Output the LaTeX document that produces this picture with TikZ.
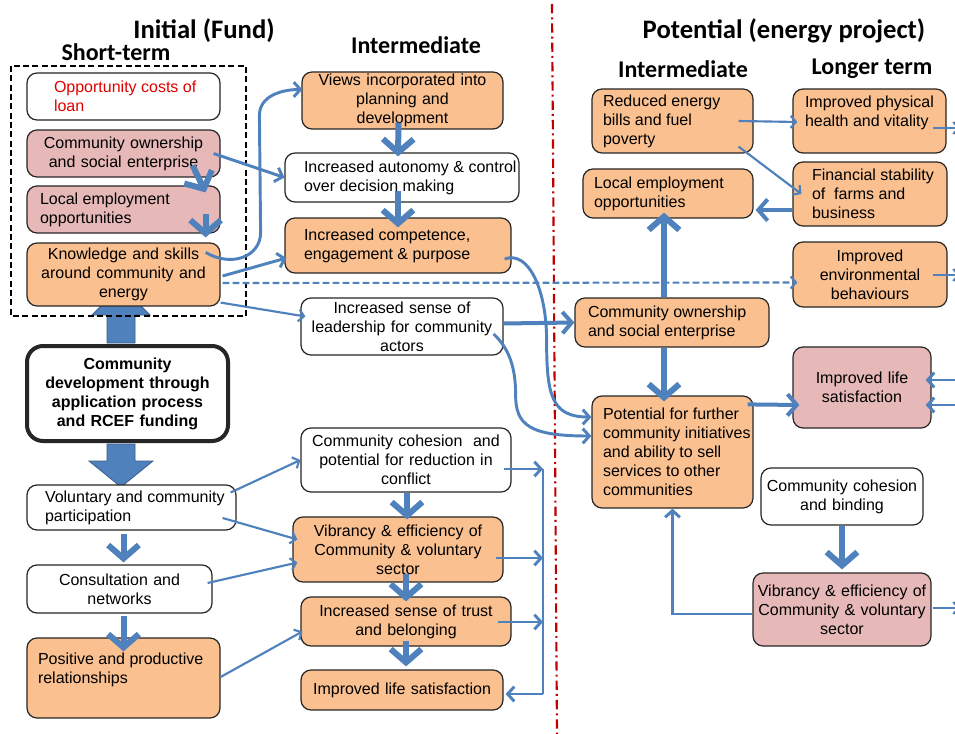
\documentclass[tikz,border=0pt]{standalone}
\usepackage{fontspec}
\setmainfont{Liberation Sans}
\newfontfamily\hdfont{Carlito}
\usetikzlibrary{arrows.meta,calc}
\definecolor{orng}{HTML}{FAC090}
\definecolor{pnk}{HTML}{E6B9B8}
\definecolor{blu}{HTML}{4F81BD}
\definecolor{bludk}{HTML}{385D8A}
\definecolor{redc}{HTML}{C00000}
\definecolor{redt}{HTML}{E00000}
\newcommand\bodyf{\fontsize{12}{14.3}\selectfont}
% centred box: name x1 y1 x2 y2 style text
\newcommand\cbx[7]{%
  \pgfmathsetlengthmacro\bxw{(#4-#2)*0.75pt}%
  \pgfmathsetlengthmacro\bxh{(#5-#3)*0.75pt}%
  \pgfmathsetlengthmacro\bxtw{(#4-#2-6)*0.75pt}%
  \node[#6, minimum width=\bxw, minimum height=\bxh, text width=\bxtw, align=center, inner xsep=2.25pt, inner ysep=0pt] (#1) at ({(#2+#4)/2},{(#3+#5)/2}) {#7};}
% left box: name x1 y1 x2 y2 style leftpad text
\newcommand\lbx[8]{%
  \pgfmathsetlengthmacro\bxw{(#4-#2)*0.75pt}%
  \pgfmathsetlengthmacro\bxh{(#5-#3)*0.75pt}%
  \pgfmathsetlengthmacro\bxl{(#7)*0.75pt}%
  \pgfmathsetlengthmacro\bxtw{(#4-#2-#7-2)*0.75pt}%
  \node[#6, minimum width=\bxw, minimum height=\bxh, inner xsep=0pt, inner ysep=0pt] (#1) at ({(#2+#4)/2},{(#3+#5)/2}) {\hspace*{\bxl}\parbox{\bxtw}{\raggedright #8}};}
\begin{document}
\begin{tikzpicture}[x=0.75pt, y=-0.75pt,
  every node/.style={font=\bodyf},
  bxb/.style={draw=black!85, line width=0.9pt, rounded corners=7.5pt},
  ob/.style={bxb, fill=orng},
  pb/.style={bxb, fill=pnk},
  wb/.style={bxb, fill=white},
  hd/.style={font=\hdfont\bfseries\fontsize{18}{20}\selectfont, inner sep=0pt},
  hdl/.style={font=\hdfont\bfseries\fontsize{20}{22}\selectfont, inner sep=0pt},
  thn/.style={draw=blu, line width=1.6pt, -{Straight Barb[length=4pt,width=9pt]}},
  med/.style={draw=blu, line width=2.2pt, -{Straight Barb[length=5pt,width=11pt]}},
  medline/.style={draw=blu, line width=2.2pt},
  hv/.style={draw=blu, line width=3pt, -{Straight Barb[length=7pt,width=16pt]}},
  thk/.style={draw=blu, line width=4.5pt, -{Straight Barb[length=10pt,width=23pt]}},
  blk/.style={fill=blu, draw=bludk, line width=0.6pt},
  blued/.style={dash pattern=on 5pt off 2.5pt}]
\fill[white] (0,0) rectangle (955,734);
\useasboundingbox (0,0) rectangle (955,734);

% headers
\node[hdl] (h1) at (204,31) {Initial (Fund)};
\node[hd] (h2) at (116,52) {Short-term};
\node[hd] (h3) at (416,45) {Intermediate};
\node[hdl] (h4) at (784,31) {Potential (energy project)};
\node[hd] (h5) at (683,69) {Intermediate};
\node[hd] (h6) at (872,69) {Longer term};

% red separator
\coordinate (rt) at (552,4);
\coordinate (rb) at (557,734);
\draw[redc, line width=1.6pt, dash pattern=on 7pt off 3pt on 1.5pt off 3pt] (rt) -- (rb);

% left column
\lbx{opp}{27}{73}{220}{120}{wb, text=redt}{26}{Opportunity costs of\\loan}
\cbx{cown}{27}{130}{220}{177}{pb}{Community ownership\\and social enterprise}
\lbx{lemp}{27}{186}{220}{233}{pb}{12}{Local employment\\opportunities}
\cbx{dev}{27}{346}{228}{441}{wb, line width=3pt, rounded corners=12pt, font=\bodyf\bfseries}{Community\\development through\\application process\\and RCEF funding}

% block arrows
\coordinate (ua) at ([shift={(-6.5,0)}]dev.north);
\coordinate (da) at ([shift={(-6.5,0)}]dev.south);
\filldraw[blk] ([shift={(-14,-1)}]ua) -- ([shift={(-14,-29)}]ua) -- ([shift={(-29,-29)}]ua) -- ([shift={(0,-58)}]ua) -- ([shift={(29,-29)}]ua) -- ([shift={(14,-29)}]ua) -- ([shift={(14,-1)}]ua) -- cycle;
\filldraw[blk] ([shift={(-14,1)}]da) -- ([shift={(-14,18)}]da) -- ([shift={(-32,18)}]da) -- ([shift={(0,44)}]da) -- ([shift={(32,18)}]da) -- ([shift={(14,18)}]da) -- ([shift={(14,1)}]da) -- cycle;

\cbx{know}{27}{243}{220}{306}{ob}{Knowledge and skills\\around community and\\energy}
\lbx{vol}{27}{485}{236}{530}{wb}{17}{Voluntary and community\\participation}
\cbx{cons}{27}{565}{212}{613}{wb}{Consultation and\\networks}
\lbx{pos}{27}{638}{220}{718}{ob}{10}{Positive and productive\\relationships\\\mbox{}}

% short-term frame
\draw[black, line width=1.3pt, dash pattern=on 4.5pt off 2.5pt] (11,66) rectangle (246,316);

% middle column
\cbx{views}{302}{72}{503}{129}{ob}{Views incorporated into\\planning and\\development}
\lbx{auto}{285}{153}{519}{202}{wb}{18}{Increased autonomy \& control\\over decision making}
\lbx{comp}{285}{218}{511}{273}{ob}{18}{Increased competence,\\engagement \& purpose}
\cbx{lead}{301}{298}{503}{355}{wb}{Increased sense of\\leadership for community\\actors}
\cbx{coh}{301}{428}{511}{492}{wb}{Community cohesion\ \ and\\potential for reduction in\\conflict}
\cbx{vib}{293}{517}{503}{582}{ob}{Vibrancy \& efficiency of\\Community \& voluntary\\sector}
\cbx{trust}{301}{597}{511}{646}{ob}{Increased sense of trust\\and belonging}
\cbx{life}{301}{670}{503}{710}{ob}{Improved life satisfaction}

% right part
\lbx{red}{592}{89}{753}{153}{ob}{10}{Reduced energy\\bills and fuel\\poverty}
\lbx{phys}{793}{89}{946}{153}{ob}{11}{Improved physical\\health and vitality\\\mbox{}}
\lbx{lemp2}{583}{169}{753}{218}{ob}{10}{Local employment\\opportunities}
\lbx{fin}{793}{162}{947}{226}{ob}{18}{Financial stability\\of\ \ farms and\\business}
\cbx{env}{793}{242}{947}{307}{ob}{Improved\\environmental\\behaviours}
\lbx{cown2}{575}{298}{769}{347}{ob}{12}{Community ownership\\and social enterprise}
\cbx{lifeR}{793}{347}{931}{428}{pb}{Improved life\\satisfaction}
\lbx{pot}{592}{396}{753}{508}{ob}{10}{Potential for further\\community initiatives\\and ability to sell\\services to other\\communities}
\cbx{cohR}{761}{468}{923}{525}{wb}{Community cohesion\\and binding}
\cbx{vibR}{753}{573}{931}{646}{pb}{Vibrancy \& efficiency of\\Community \& voluntary\\sector}

% free ends at the right edge
\coordinate (eP) at (960,128);
\coordinate (eE) at (960,275);
\coordinate (eL1) at (960,380);
\coordinate (eL2) at (960,405);
\coordinate (eV) at (960,608);
% bracket
\coordinate (bk1) at (543,469);
\coordinate (bk2) at (543,558);
\coordinate (bk3) at (543,622);
\coordinate (bk4) at (543,694);

% thick vertical arrows
\draw[thk] ([shift={(-28,-12)}]cown.south east) -- ([shift={(-15,7)}]lemp.north east);
\draw[thk] ([shift={(-15,-20)}]lemp.south east) -- ([shift={(-15,-5)}]know.north east);
\draw[thk] ([shift={(-4,-7)}]views.south) -- ([shift={(-4,4)}]auto.north);
\draw[thk] ([shift={(-4,-12)}]auto.south) -- ([shift={(0,10)}]comp.north);
\draw[thk] ([shift={(1,0)}]coh.south) -- ([shift={(9,3)}]vib.north);
\draw[thk] ([shift={(8,-9)}]vib.south) -- ([shift={(0,5)}]trust.north);
\draw[thk] ([shift={(0,-6)}]trust.south) -- ([shift={(4,-3)}]life.north);
\draw[thk] ([shift={(-8,3)}]vol.south) -- ([shift={(4,-2)}]cons.north);
\draw[thk] ([shift={(4,2)}]cons.south) -- ([shift={(0,14)}]pos.north);
\draw[thk] ([shift={(-8,0)}]cown2.north) -- ([shift={(-4,-6)}]lemp2.south);
\draw[thk] ([shift={(-8,0)}]cown2.south) -- ([shift={(-8.5,6)}]pot.north);
\draw[thk] (cohR.south) -- ([shift={(0,-3)}]vibR.north);

% heavier horizontal arrows
\draw[hv] ([shift={(0,-3)}]lead.east) -- (cown2.west);
\draw[hv] ([shift={(-6,9)}]pot.north east) -- ([shift={(7,17.5)}]lifeR.west);
\draw[hv] ([shift={(0,16)}]fin.west) -- ([shift={(2,16.5)}]lemp2.east);

% medium connectors
\draw[med] ([shift={(-15,10)}]know.north east) .. controls +(25,15) and +(0,25) .. ([shift={(40,-10)}]know.north east) -- ([shift={(-42,15)}]views.west) .. controls +(0,-20) and +(-20,0) .. ([shift={(1,-11)}]views.west);
\draw[med] ([shift={(2,1.5)}]know.east) -- ([shift={(2,12.5)}]comp.west);
\draw[med] ([shift={(-7,0)}]cown.east) -- (auto.west);
\draw[med] ([shift={(-7,13.5)}]comp.east) .. controls +(24,-9) and +(0,-50) .. ([shift={(35,94.5)}]comp.east) .. controls +(0,55) and +(-40,0) .. ([shift={(0,-35)}]pot.west);
\draw[med] ([shift={(-10,7.5)}]lead.east) .. controls +(17,16) and +(0,-25) .. ([shift={(12,68.5)}]lead.east) .. controls +(0,30) and +(-62,0) .. ([shift={(0,-16)}]pot.west);
\draw[med] (eL1) -- ([shift={(-6,-7.5)}]lifeR.east);
\draw[med] (eL2) -- ([shift={(-6,17.5)}]lifeR.east);
\draw[med] ([shift={(0,4.5)}]vibR.west) -| (pot.south);

% thin connectors
\draw[thn] ([shift={(0,-4)}]know.south east) -- ([shift={(5,-10)}]lead.west);
\draw[thn, blued] ([shift={(2,8.5)}]know.east) -- ([shift={(5,8)}]env.west);
\draw[thn] ([shift={(-15,0)}]red.east) -- ([shift={(5,1)}]phys.west);
\draw[thn] ([shift={(-15,-7)}]red.south east) -- ([shift={(9,0)}]fin.west);
\draw[thn] ([shift={(-14,7)}]phys.east) -- (eP);
\draw[thn] ([shift={(-15,0.5)}]env.east) -- (eE);
\draw[thn] ([shift={(1,-1.5)}]vibR.east) -- (eV);
\draw[thn] ([shift={(-6,-15)}]vol.east) -- (coh.west);
\draw[thn] ([shift={(-14,10.5)}]vol.east) -- ([shift={(5,-10)}]vib.west);
\draw[thn] ([shift={(-5,-6)}]cons.east) -- ([shift={(5,13)}]vib.west);
\draw[thn] ([shift={(0,-1)}]pos.east) -- ([shift={(2,10)}]trust.west);

% bracket
\draw[med] ([shift={(-8,9)}]coh.east) -- (bk1);
\draw[med] ([shift={(-8,8.5)}]vib.east) -- (bk2);
\draw[med] ([shift={(-14,0.5)}]trust.east) -- (bk3);
\draw[medline] (bk1) -- (bk4);
\draw[med] (bk4) -- ([shift={(2,4)}]life.east);
\end{tikzpicture}
\end{document}
